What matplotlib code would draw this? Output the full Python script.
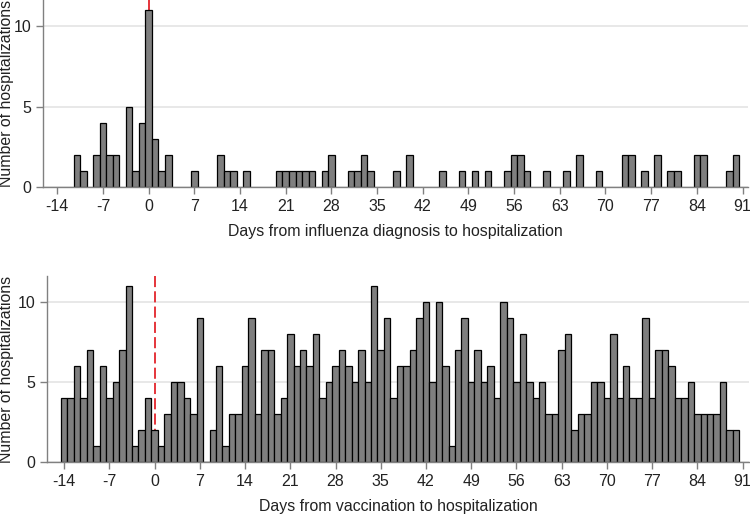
import numpy as np
import matplotlib
matplotlib.use("Agg")
import matplotlib.pyplot as plt

plt.rcParams['font.family'] = ['Liberation Sans', 'DejaVu Sans']
plt.rcParams['font.size'] = 11
plt.rcParams['lines.scale_dashes'] = False
plt.rcParams['axes.unicode_minus'] = False

# top panel: days from influenza diagnosis (only days with hospitalizations)
flu_days = [-11, -10, -8, -7, -6, -5, -3, -2, -1, 0, 1, 2, 3, 7, 11, 12, 13, 15,
            20, 21, 22, 23, 24, 25, 27, 28, 31, 32, 33, 34, 38, 40, 45, 48, 50, 52,
            55, 56, 57, 58, 61, 64, 66, 69, 73, 74, 76, 78, 80, 81, 84, 85, 89, 90]
flu_counts = [2, 1, 2, 4, 2, 2, 5, 1, 4, 11, 3, 1, 2, 1, 2, 1, 1, 1,
              1, 1, 1, 1, 1, 1, 1, 2, 1, 1, 2, 1, 1, 2, 1, 1, 1, 1,
              1, 2, 2, 1, 1, 1, 2, 1, 2, 2, 1, 2, 1, 1, 2, 2, 1, 2]

# bottom panel: days from vaccination, -14 .. 90
vac_days = list(range(-14, 91))
vac_counts = [4, 4, 6, 4, 7, 1, 6, 4, 5, 7, 11, 1, 2, 4, 2, 1, 3, 5, 5, 4, 3, 9,
              0, 2, 6, 1, 3, 3, 6, 9, 3, 7, 7, 3, 4, 8, 6, 7, 6, 8, 4, 5, 6, 7,
              6, 5, 7, 5, 11, 7, 9, 4, 6, 6, 7, 9, 10, 5, 10, 6, 1, 7, 9, 5, 7,
              5, 6, 4, 10, 9, 5, 8, 5, 4, 5, 3, 3, 7, 8, 2, 3, 3, 5, 5, 4, 8, 4,
              6, 4, 4, 9, 4, 7, 7, 6, 4, 4, 5, 3, 3, 3, 3, 5, 2, 2]

xticks = list(range(-14, 92, 7))
yticks = [0, 5, 10]
ref_day = 0

bar_color = '#7f7f7f'
axis_color = '#808080'
red = '#e3242b'

fig = plt.figure(figsize=(7.5, 5.15), dpi=100)
ax1 = fig.add_axes([0.0573, 0.6363, 0.9397, 0.3637])
ax2 = fig.add_axes([0.0631, 0.1023, 0.9356, 0.3618])


def style(ax, days, counts, xlim, xlabel, ylab_x):
    ax.axvline(ref_day, ymin=1, ymax=0, color=red, lw=1.3, dashes=(8, 3), zorder=1)
    ax.bar(days, counts, width=1.0, color=bar_color, edgecolor='black',
           linewidth=0.9, zorder=2)
    ax.set_xlim(*xlim)
    ax.set_ylim(0, 11.6)
    ax.set_xticks(xticks)
    ax.set_yticks(yticks)
    ax.grid(axis='y', color='#e4e4e4', lw=1.2, zorder=0)
    ax.set_axisbelow(True)
    for s in ['top', 'right']:
        ax.spines[s].set_visible(False)
    for s in ['left', 'bottom']:
        ax.spines[s].set_color(axis_color)
        ax.spines[s].set_linewidth(1.0)
        ax.spines[s].set_zorder(3)
    ax.tick_params(colors=axis_color, labelcolor='#222222', length=5, width=1.0,
                   labelsize=11.5)
    ax.set_xlabel(xlabel, fontsize=11.4, color='#222222', labelpad=7)
    ax.set_ylabel('Number of hospitalizations', fontsize=11.4, color='#222222')
    ax.yaxis.set_label_coords(ylab_x, 0.5)


style(ax1, flu_days, flu_counts, (-16.2, 91.8),
      'Days from influenza diagnosis to hospitalization', -0.0415)
style(ax2, vac_days, vac_counts, (-16.6, 92.0),
      'Days from vaccination to hospitalization', -0.048)

fig.savefig('out.png', dpi=100)
